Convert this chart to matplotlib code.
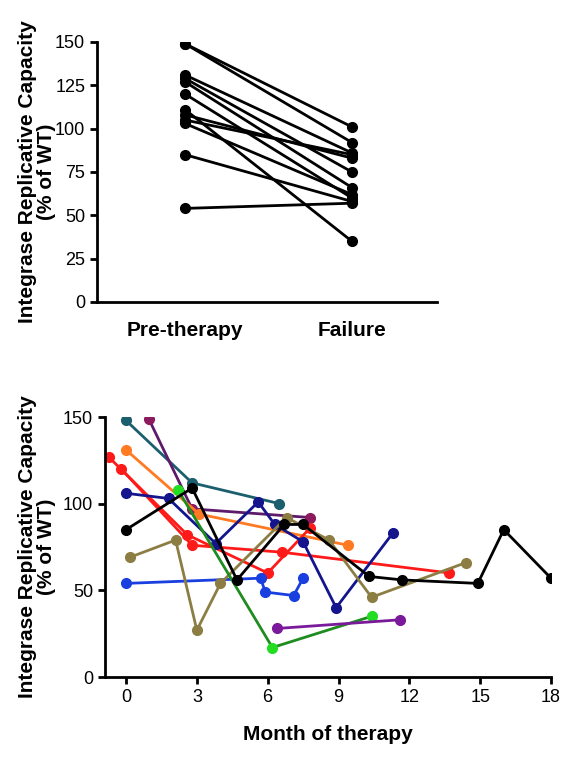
import numpy as np
import matplotlib
matplotlib.use("Agg")
import matplotlib.pyplot as plt

plt.rcParams['font.family'] = ['Liberation Sans', 'DejaVu Sans']

# --- top panel: paired values, pre-therapy vs failure
groups = ["Pre-therapy", "Failure"]
pre_vals = [149, 149, 131, 129, 127, 120, 111, 108, 105, 103, 85, 54]
fail_vals = [101, 92, 86, 75, 66, 60, 35, 83, 85, 62, 58, 57]

# --- bottom panel: per patient (month, value)
teal_m = [0, 2.8, 6.5]
teal_v = [148, 112, 100]
maroon_m = [0.96, 2.8, 7.8]
maroon_v = [149, 97, 92]
orange_m = [0, 3.1, 9.4]
orange_v = [131, 94, 76]
red1_m = [-0.74, 2.6, 6.0, 7.8]
red1_v = [127, 82, 60, 86]
red2_m = [-0.2, 2.8, 6.6, 13.7]
red2_v = [120, 76, 72, 60]
navy_m = [0, 1.8, 3.8, 5.6, 6.3, 7.5, 8.9, 11.3]
navy_v = [106, 103, 77, 101, 88, 78, 40, 83]
blue_m = [0, 5.7, 5.9, 7.1, 7.5]
blue_v = [54, 57, 49, 47, 57]
black_m = [0, 2.8, 4.7, 6.7, 7.5, 10.3, 11.7, 14.9, 16, 18]
black_v = [85, 109, 56, 88, 88, 58, 56, 54, 85, 57]
olive_m = [0.15, 2.1, 3.0, 4.0, 6.8, 8.6, 10.4, 14.4]
olive_v = [69, 79, 27, 54, 92, 79, 46, 66]
green_m = [2.2, 6.2, 10.4]
green_v = [108, 17, 35]
purple_m = [6.4, 11.6]
purple_v = [28, 33]

W, H = 567, 757
fig = plt.figure(figsize=(W / 100, H / 100), dpi=100)

def style_axes(ax):
    ax.spines['top'].set_visible(False)
    ax.spines['right'].set_visible(False)
    for s in ('left', 'bottom'):
        ax.spines[s].set_linewidth(2)
    ax.tick_params(width=2, length=5, labelsize=13, direction='out')

# top axes
ax1 = fig.add_axes([97 / W, 1 - 302 / H, 340 / W, 260 / H])
style_axes(ax1)
for a, b in zip(pre_vals, fail_vals):
    ax1.plot([0, 1], [a, b], color='black', lw=2, marker='o', ms=7)
ax1.set_xlim(-0.527, 1.509)
ax1.set_ylim(0, 150)
ax1.set_yticks([0, 25, 50, 75, 100, 125, 150])
ax1.set_xticks([0, 1])
ax1.set_xticklabels(groups, fontsize=15, fontweight='bold')
ax1.tick_params(axis='x', length=0, pad=14)
ax1.spines['left'].set_bounds(0, 150)
fig.text(37 / W, 1 - 172 / H, "Integrase Replicative Capacity\n(% of WT)",
         rotation=90, ha='center', va='center', fontsize=15,
         fontweight='bold', linespacing=1.0)

# bottom axes
ax2 = fig.add_axes([105 / W, 1 - 677 / H, 446 / W, 260 / H])
style_axes(ax2)
series = [
    (teal_m, teal_v, '#1b5e6e', '#1b5e6e'),
    (maroon_m, maroon_v, '#5e1a6b', '#8b1a5e'),
    (orange_m, orange_v, '#ff7a22', '#ff7a22'),
    (red1_m, red1_v, '#ff1a1a', '#ff1a1a'),
    (red2_m, red2_v, '#ff1a1a', '#ff1a1a'),
    (navy_m, navy_v, '#14148c', '#14148c'),
    (blue_m, blue_v, '#1a3fe0', '#1a3fe0'),
    (olive_m, olive_v, '#8c7d42', '#8c7d42'),
    (green_m, green_v, '#1e8c1e', '#22dd22'),
    (purple_m, purple_v, '#7a1a9a', '#7a1a9a'),
    (black_m, black_v, 'black', 'black'),
]
for m, v, lc, mc in series:
    ax2.plot(m, v, color=lc, lw=2, marker='o', ms=7, mfc=mc, mec=mc)
ax2.set_xlim(-0.89, 18)
ax2.set_ylim(0, 150)
ax2.set_xticks(np.arange(0, 19, 3))
ax2.set_yticks([0, 50, 100, 150])
ax2.set_xlabel("Month of therapy", fontsize=15, fontweight='bold', labelpad=14)
fig.text(37 / W, 1 - 547 / H, "Integrase Replicative Capacity\n(% of WT)",
         rotation=90, ha='center', va='center', fontsize=15,
         fontweight='bold', linespacing=1.0)

fig.savefig("out.png", dpi=100)
